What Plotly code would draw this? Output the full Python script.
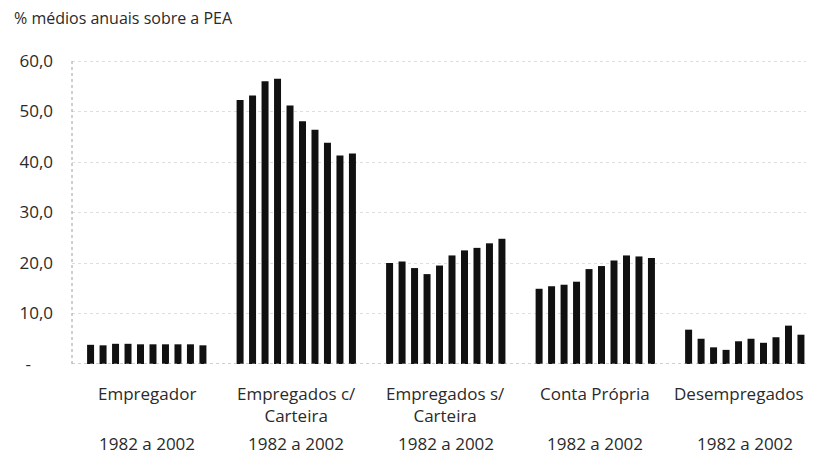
import plotly.graph_objects as go

categories = [
    "Empregador",
    "Empregados c/<br>Carteira",
    "Empregados s/<br>Carteira",
    "Conta Própria",
    "Desempregados",
]
period_label = "1982 a 2002"

# ten annual averages per category (% of PEA)
empregador = [3.8, 3.7, 4.0, 4.0, 3.9, 3.9, 3.9, 3.9, 3.9, 3.7]
empregados_com = [52.3, 53.2, 56.0, 56.5, 51.2, 48.1, 46.4, 43.8, 41.3, 41.7]
empregados_sem = [20.0, 20.3, 19.0, 17.8, 19.5, 21.5, 22.5, 23.0, 23.9, 24.8]
conta_propria = [14.9, 15.4, 15.7, 16.3, 18.8, 19.4, 20.5, 21.5, 21.3, 21.0]
desempregados = [6.8, 5.0, 3.3, 2.8, 4.5, 5.0, 4.2, 5.3, 7.6, 5.8]

y_tickvals = [0, 10, 20, 30, 40, 50, 60]
y_ticktext = ["-" + "\u00a0" * 5, "10,0", "20,0", "30,0", "40,0", "50,0", "60,0"]

series = [empregador, empregados_com, empregados_sem, conta_propria, desempregados]
n_years = len(empregador)

FONT = "Open Sans"
TEXT = "#2a2a2a"

fig = go.Figure()
for i in range(n_years):
    fig.add_trace(
        go.Bar(
            x=list(range(len(categories))),
            y=[s[i] for s in series],
            name=f"ano {i + 1}",
            marker=dict(color="#111111", line_width=0),
            showlegend=False,
        )
    )

# category names and period caption under each group
for idx, label in enumerate(categories):
    nudge = -6 if idx == len(categories) - 1 else 0
    fig.add_annotation(
        x=idx, y=0, xref="x", yref="paper",
        yanchor="top", yshift=-16, xshift=nudge,
        text=label, showarrow=False,
        font=dict(family=FONT, size=17, color=TEXT),
    )
    fig.add_annotation(
        x=idx, y=0, xref="x", yref="paper",
        yanchor="top", yshift=-66,
        text=period_label, showarrow=False,
        font=dict(family=FONT, size=17, color=TEXT),
    )

fig.add_annotation(
    x=0, y=1, xref="paper", yref="paper", xanchor="left", yanchor="bottom",
    xshift=-60, yshift=25,
    text="% médios anuais sobre a PEA", showarrow=False,
    font=dict(family=FONT, size=16, color=TEXT),
)

# dotted axis line and baseline
fig.add_shape(type="line", xref="paper", yref="y", x0=0, x1=0, y0=0, y1=60,
              line=dict(color="#a0a0a0", width=1, dash="dot"))
fig.add_shape(type="line", xref="paper", yref="y", x0=0, x1=1, y0=0, y1=0,
              line=dict(color="#a0a0a0", width=1, dash="dot"))

# the page adds an 8px body margin, so the figure is sized to fit inside it
fig.update_layout(
    width=806,
    height=449,
    margin=dict(l=64, r=0, t=48, b=93),
    plot_bgcolor="white",
    paper_bgcolor="white",
    barmode="group",
    bargap=0.165,
    bargroupgap=0.44,
    font=dict(family=FONT, color=TEXT),
    xaxis=dict(
        range=[-0.5, 4.463],
        showticklabels=False,
        showgrid=False,
        showline=False,
        zeroline=False,
        ticks="",
        automargin=False,
    ),
    yaxis=dict(
        range=[0, 61],
        tickvals=y_tickvals,
        ticktext=y_ticktext,
        tickfont=dict(family=FONT, size=17, color=TEXT),
        showgrid=True,
        gridcolor="#dedede",
        griddash="dot",
        gridwidth=1,
        zeroline=False,
        showline=False,
        ticks="",
        ticklabelstandoff=18,
        automargin=False,
    ),
)

fig.write_html("out.html")
